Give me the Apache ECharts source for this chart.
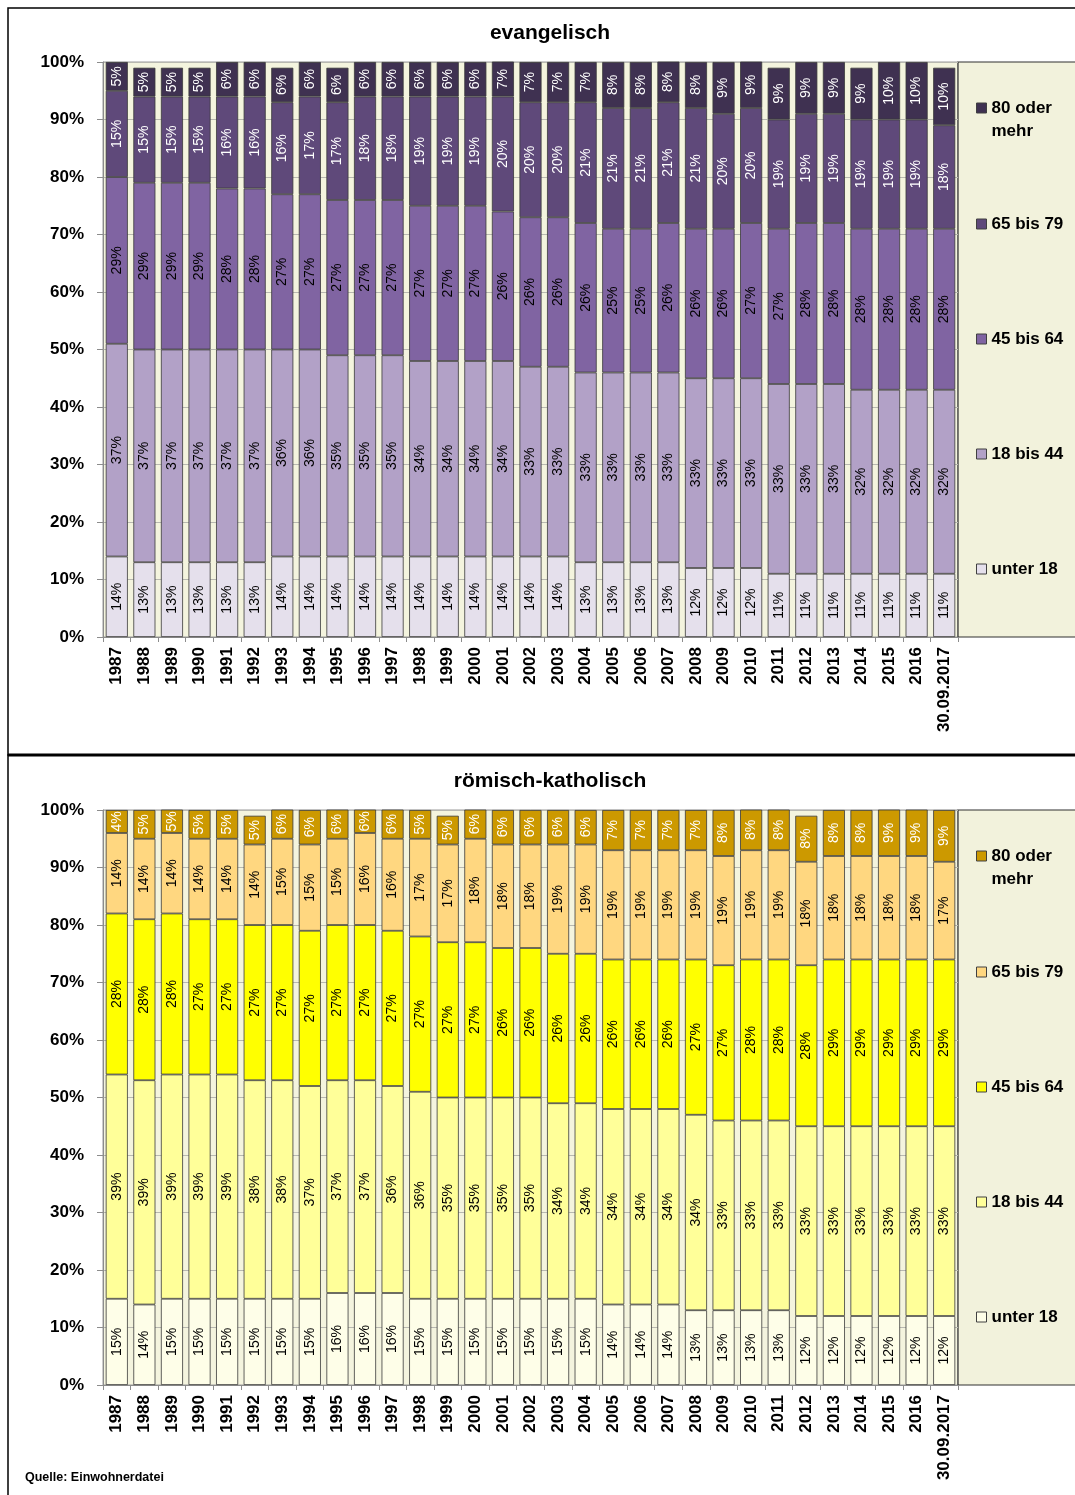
<!DOCTYPE html>
<html>
<head>
<meta charset="utf-8">
<script src="https://cdn.jsdelivr.net/npm/echarts@6/dist/echarts.min.js"></script>
<style>
  html, body { margin: 0; padding: 0; background: #ffffff; }
  #chart { width: 1075px; height: 1495px; }
</style>
</head>
<body>
<div id="chart"></div>
<script>
// Stichtage (Jahresende, zuletzt 30.09.2017)
const years = ['1987','1988','1989','1990','1991','1992','1993','1994','1995','1996',
  '1997','1998','1999','2000','2001','2002','2003','2004','2005','2006','2007','2008',
  '2009','2010','2011','2012','2013','2014','2015','2016','30.09.2017'];

// Altersgruppen, von unten nach oben gestapelt
const ageGroups = ['unter 18', '18 bis 44', '45 bis 64', '65 bis 79', '80 oder mehr'];

// evangelisch, Anteile in %
const evUnter18 = [14,13,13,13,13,13,14,14,14,14,14,14,14,14,14, 14,14,13,13,13,13,12,12,12,11,11,11,11,11,11,11];
const ev18bis44 = [37,37,37,37,37,37,36,36,35,35,35,34,34,34,34, 33,33,33,33,33,33,33,33,33,33,33,33,32,32,32,32];
const ev45bis64 = [29,29,29,29,28,28,27,27,27,27,27,27,27,27,26, 26,26,26,25,25,26,26,26,27,27,28,28,28,28,28,28];
const ev65bis79 = [15,15,15,15,16,16,16,17,17,18,18,19,19,19,20, 20,20,21,21,21,21,21,20,20,19,19,19,19,19,19,18];
const ev80mehr  = [5,5,5,5,6,6,6,6,6,6,6,6,6,6,7, 7,7,7,8,8,8,8,9,9,9,9,9,9,10,10,10];

// römisch-katholisch, Anteile in %
const rkUnter18 = [15,14,15,15,15,15,15,15,16,16,16,15,15,15,15, 15,15,15,14,14,14,13,13,13,13,12,12,12,12,12,12];
const rk18bis44 = [39,39,39,39,39,38,38,37,37,37,36,36,35,35,35, 35,34,34,34,34,34,34,33,33,33,33,33,33,33,33,33];
const rk45bis64 = [28,28,28,27,27,27,27,27,27,27,27,27,27,27,26, 26,26,26,26,26,26,27,27,28,28,28,29,29,29,29,29];
const rk65bis79 = [14,14,14,14,14,14,15,15,15,16,16,17,17,18,18, 18,19,19,19,19,19,19,19,19,19,18,18,18,18,18,17];
const rk80mehr  = [4,5,5,5,5,5,6,6,6,6,6,5,5,6,6, 6,6,6,7,7,7,7,8,8,8,8,8,8,9,9,9];

const yTicks = [0,10,20,30,40,50,60,70,80,90,100];

const FONT = '"Liberation Sans", Arial, sans-serif';

const evColors = ['#e5e0ec', '#b2a1c7', '#8064a2', '#5f497a', '#3f3151'];
const evLabelColors = ['#000', '#000', '#000', '#fff', '#fff'];
const rkColors = ['#fefee8', '#ffff99', '#ffff00', '#ffd780', '#cc9900'];
const rkLabelColors = ['#000', '#000', '#000', '#000', '#fff'];

const evData = [evUnter18, ev18bis44, ev45bis64, ev65bis79, ev80mehr];
const rkData = [rkUnter18, rk18bis44, rk45bis64, rk65bis79, rk80mehr];

const panels = [
  { title: 'evangelisch', top: 62, data: evData, colors: evColors, labelColors: evLabelColors, stack: 'ev' },
  { title: 'römisch-katholisch', top: 810, data: rkData, colors: rkColors, labelColors: rkLabelColors, stack: 'rk' }
];

const PLOT_LEFT = 103, PLOT_WIDTH = 855, PLOT_HEIGHT = 575;

const grids = [], xAxes = [], yAxes = [], series = [], titles = [], legends = [], graphics = [];

// legend slot centres relative to plot top (top item is two lines tall)
const legendCentres = [507, 392, 277, 162, 57.5];

panels.forEach((p, gi) => {
  grids.push({
    left: PLOT_LEFT, top: p.top, width: PLOT_WIDTH, height: PLOT_HEIGHT,
    show: true, backgroundColor: '#f4f4de', borderColor: '#9a9a9a', borderWidth: 1
  });
  xAxes.push({
    type: 'category', gridIndex: gi, data: years,
    axisLine: { show: true, lineStyle: { color: '#8c8c8c', width: 1 } },
    axisTick: { show: true, length: 5, lineStyle: { color: '#8c8c8c' } },
    axisLabel: {
      rotate: 90, interval: 0, margin: 10,
      fontFamily: FONT, fontSize: 17, fontWeight: 'bold', color: '#000'
    }
  });
  yAxes.push({
    type: 'value', gridIndex: gi, min: yTicks[0], max: yTicks[yTicks.length - 1], interval: 10,
    axisLine: { show: true, lineStyle: { color: '#8c8c8c', width: 1 } },
    axisTick: { show: true, length: 6, lineStyle: { color: '#8c8c8c' } },
    axisLabel: {
      formatter: '{value}%', margin: 19,
      fontFamily: FONT, fontSize: 17, fontWeight: 'bold', color: '#000'
    },
    splitLine: { show: true, lineStyle: { color: '#b8b8b0', width: 1 } }
  });
  p.data.forEach((vals, si) => {
    series.push({
      type: 'bar', name: ageGroups[si], xAxisIndex: gi, yAxisIndex: gi, stack: p.stack,
      data: vals, barCategoryGap: '20%',
      itemStyle: { color: p.colors[si], borderColor: '#3a3a3a', borderWidth: 0.8 },
      label: {
        show: true, position: 'inside', rotate: 90, formatter: '{c}%',
        fontFamily: FONT, fontSize: 14, color: p.labelColors[si]
      },
      emphasis: { disabled: true }
    });
  });
  titles.push({
    text: p.title, left: 545, top: p.top - 44, textAlign: 'center',
    textStyle: { fontFamily: FONT, fontSize: 21, fontWeight: 'bold', color: '#000' }
  });
  // legend panel to the right of the plot
  graphics.push({
    type: 'rect', z: 0,
    shape: { x: PLOT_LEFT + PLOT_WIDTH, y: p.top, width: 130, height: PLOT_HEIGHT },
    style: { fill: '#f2f2dc', stroke: '#303030', lineWidth: 1.2 }
  });
  ageGroups.forEach((name, si) => {
    const twoLine = si === 4;
    legends.push({
      left: 976,
      top: p.top + legendCentres[si] - (twoLine ? 23 : 11.5),
      padding: 0, orient: 'vertical', selectedMode: false,
      itemWidth: 10, itemHeight: twoLine ? 33 : 10,
      icon: twoLine ? 'path://M0,0L10,0L10,10L0,10Z M0,33L0.01,33' : 'rect',
      formatter: n => n === '80 oder mehr' ? '80 oder\nmehr' : n,
      textStyle: { fontFamily: FONT, fontSize: 17, fontWeight: 'bold', color: '#000', lineHeight: 23 },
      data: [{ name: name, itemStyle: { color: p.colors[si], borderColor: '#404040', borderWidth: 1 } }]
    });
  });
});

// panel frames and source line
graphics.push(
  { type: 'rect', z: 10, shape: { x: 8, y: 8, width: 1080, height: 747 },
    style: { fill: 'none', stroke: '#000', lineWidth: 1.5 } },
  { type: 'rect', z: 10, shape: { x: 8, y: 755, width: 1080, height: 760 },
    style: { fill: 'none', stroke: '#000', lineWidth: 1.5 } },
  { type: 'line', z: 10, shape: { x1: 8, y1: 755, x2: 1075, y2: 755 },
    style: { stroke: '#000', lineWidth: 3 } },
  { type: 'text', z: 10, x: 25, y: 1471,
    style: { text: 'Quelle: Einwohnerdatei', fontFamily: FONT, fontSize: 12.5, fontWeight: 'bold', fill: '#000' } }
);

const chart = echarts.init(document.getElementById('chart'), null, { renderer: 'canvas' });
chart.setOption({
  animation: false,
  backgroundColor: '#ffffff',
  title: titles,
  grid: grids,
  xAxis: xAxes,
  yAxis: yAxes,
  legend: legends,
  series: series,
  graphic: graphics
});
</script>
</body>
</html>
